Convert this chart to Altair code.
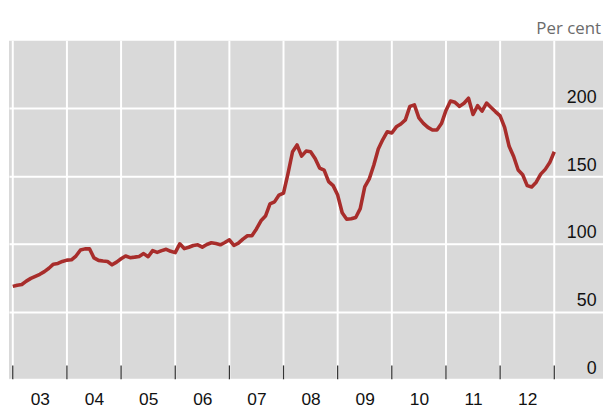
import altair as alt
import pandas as pd

# Monthly values, Jan 2003 .. Jan 2013 (per cent)
values = [
    68.6, 69.5, 70.0, 72.5, 74.5, 76.0, 77.5, 79.5, 82.0, 85.0, 85.5, 87.0,
    88.0, 88.2, 91.0, 95.5, 96.3, 96.4, 89.6, 87.8, 87.3, 87.0, 84.5, 86.5,
    89.0, 91.0, 89.8, 90.2, 90.7, 92.8, 90.5, 95.0, 93.7, 95.0, 96.0, 94.5,
    93.5, 100.0, 96.5, 97.5, 98.8, 99.3, 97.6, 99.5, 100.8, 100.2, 99.3, 101.0,
    103.0, 98.8, 100.5, 103.5, 106.0, 106.0, 111.0, 117.0, 120.5, 129.5, 131.0, 136.0,
    137.5, 152.0, 168.0, 173.0, 164.8, 168.5, 168.0, 163.0, 156.0, 154.5, 146.0, 143.0,
    136.0, 123.0, 118.2, 118.5, 119.5, 126.0, 142.0, 148.0, 158.0, 170.0, 177.0, 182.8,
    181.8, 186.4, 188.5, 191.5, 201.5, 202.6, 193.0, 189.0, 186.0, 184.0, 184.0, 188.8,
    198.5, 205.5, 204.5, 201.5, 203.8, 207.5, 195.5, 202.0, 198.0, 204.0, 200.7, 197.5,
    194.5, 186.0, 172.0, 164.5, 154.5, 151.0, 143.0, 142.0, 145.5, 151.5, 155.0, 160.0,
    168.0,
]
start_year = 2003
year_starts = list(range(2003, 2014))
label_positions = [y + 0.5 for y in range(2003, 2013)]
y_ticks = [0, 50, 100, 150, 200]

df = pd.DataFrame({
    "t": [start_year + i / 12 for i in range(len(values))],
    "v": values,
})
years_df = pd.DataFrame({"year": year_starts})

W, H = 600, 342
xscale = alt.Scale(domain=[2002.93, 2013.9], nice=False, zero=False)
yscale = alt.Scale(domain=[0, 250], nice=False)

vgrid = alt.Chart(years_df).mark_rule(color="white", strokeWidth=2).encode(
    x=alt.X("year:Q", scale=xscale, axis=alt.Axis(
        values=label_positions,
        labelExpr="slice(toString(floor(datum.value)), 2)",
        ticks=False, tickSize=0, domain=False, grid=False,
        labelFontSize=17.5, labelFont="Liberation Sans", labelColor="#111",
        labelPadding=11, title=None,
    )),
    y=alt.value(0), y2=alt.value(H),
)

ticks = alt.Chart(years_df).mark_rule(color="#333", strokeWidth=1.3).encode(
    x=alt.X("year:Q", scale=xscale),
    y=alt.value(H - 14), y2=alt.value(H),
)

line = alt.Chart(df).mark_line(color="#a82d2b", strokeWidth=3.6, strokeJoin="round").encode(
    x=alt.X("t:Q", scale=xscale),
    y=alt.Y("v:Q", scale=yscale, axis=alt.Axis(
        orient="right", values=y_ticks, grid=True, gridColor="white", gridWidth=2,
        domain=False, ticks=False, tickSize=0,
        labelAlign="right", labelBaseline="alphabetic", labelPadding=-7, labelOffset=-6,
        labelFontSize=18, labelFont="Liberation Sans", labelColor="#111", title=None,
    )),
)

unit = alt.Chart(pd.DataFrame({"txt": ["Per cent"]})).mark_text(
    align="right", baseline="alphabetic", font="Open Sans", fontSize=17, color="#6b6b6b",
).encode(text="txt:N", x=alt.value(598), y=alt.value(-7))

chart = alt.layer(vgrid, ticks, line, unit).properties(
    width=W, height=H,
    autosize=alt.AutoSizeParams(type="none"),
    padding={"left": 1, "top": 31, "right": 0, "bottom": 30},
).configure_view(fill="#d9d9d9", stroke=None)

chart.save("out.html", embed_options={"renderer": "svg", "actions": False})
